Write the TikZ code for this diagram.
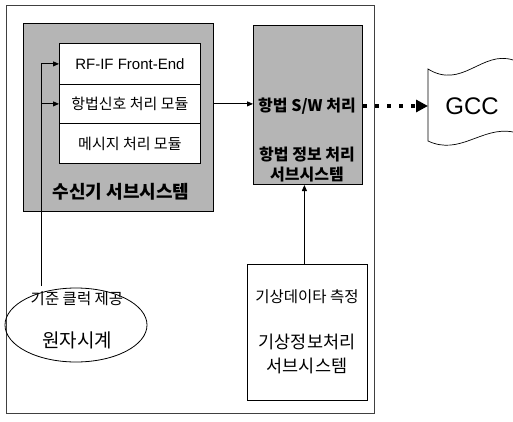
\documentclass[tikz,border=0pt]{standalone}
\usepackage{fontspec}
\setmainfont{Noto Sans CJK KR}
\newfontfamily\lat{Liberation Sans}
\usetikzlibrary{arrows.meta,shapes.geometric}
\begin{document}
\begin{tikzpicture}[x=1pt,y=-1pt,
  box/.style={draw, line width=0.8pt, inner sep=0pt, anchor=north west},
  graybox/.style={box, fill=black!29, line width=1pt},
  txt/.style={inner sep=0pt, font=\fontsize{15.5}{17}\selectfont},
  btxt/.style={inner sep=0pt, font=\fontsize{16}{18}\selectfont\bfseries},
  big/.style={inner sep=0pt, font=\fontsize{17.5}{19}\selectfont},
  arr/.style={-{Triangle[length=6pt,width=5pt]}, line width=0.8pt},
]
\useasboundingbox (0,0) rectangle (513,422);
% outer frame
\node[box, draw=black!75, minimum width=368pt, minimum height=408pt] (frame) at (6,5) {};
% receiver subsystem
\node[graybox, minimum width=190pt, minimum height=188pt] (recv) at (23,23) {};
\node[box, fill=white, minimum width=141pt, minimum height=41pt, font=\lat\fontsize{15}{17}\selectfont] (r1) at (59,43) {RF-IF Front-End};
\node[box, fill=white, minimum width=141pt, minimum height=39pt, font=\fontsize{15}{17}\selectfont] (r2) at (59,84) {항법신호 처리 모듈};
\node[box, fill=white, minimum width=141pt, minimum height=40pt, font=\fontsize{15}{17}\selectfont] (r3) at (59,123) {메시지 처리 모듈};
\node[btxt, font=\fontsize{18}{20}\selectfont\bfseries] (recvlabel) at (121,192) {수신기 서브시스템};
% navigation info processing subsystem
\node[graybox, minimum width=109pt, minimum height=159pt] (nav) at (253,25) {};
\node[btxt] (navsw) at (307,106) {항법 S/W 처리};
\node[btxt] (navname1) at (307,154) {항법 정보 처리};
\node[btxt] (navname2) at (307,175) {서브시스템};
% GCC
\draw[line width=0.7pt] (513,60) .. controls (482,50) and (462,90) .. (428,69)
  -- (428,141) .. controls (460,156) and (482,126) .. (513,132);
\coordinate (gccw) at (428,106);
\node[inner sep=0pt, font=\lat\fontsize{24}{26}\selectfont] (gcc) at (472,106) {GCC};
% atomic clock
\node[draw, ellipse, line width=0.8pt, minimum width=142pt, minimum height=74pt, inner sep=0pt] (clock) at (76,325) {};
\node[txt] (clocktop) at (77,299) {기준 클럭 제공};
\node[big, font=\fontsize{19}{21}\selectfont] (clockname) at (77,340) {원자시계};
% weather subsystem
\node[box, minimum width=120pt, minimum height=136pt] (wx) at (247,264) {};
\node[txt] (wxtop) at (307,297) {기상데이타 측정};
\node[big] (wxname1) at (307,342) {기상정보처리};
\node[big] (wxname2) at (307,366) {서브시스템};
% connectors
\coordinate (vbot) at (41,286);
\draw[arr] (vbot) |- (r1.west);
\draw[arr] (vbot |- r2.west) -- (r2.west);
\draw[arr] (recv.east |- r2.east) -- (nav.west |- r2.east);
\draw[line width=3.2pt, dash pattern=on 4pt off 8pt, -{Triangle[length=12pt,width=12pt]}] (nav.east |- navsw) -- (gccw);
\draw[arr] ([xshift=-3pt]wx.north) -- ([xshift=-3pt]wx.north |- nav.south);
\end{tikzpicture}
\end{document}
